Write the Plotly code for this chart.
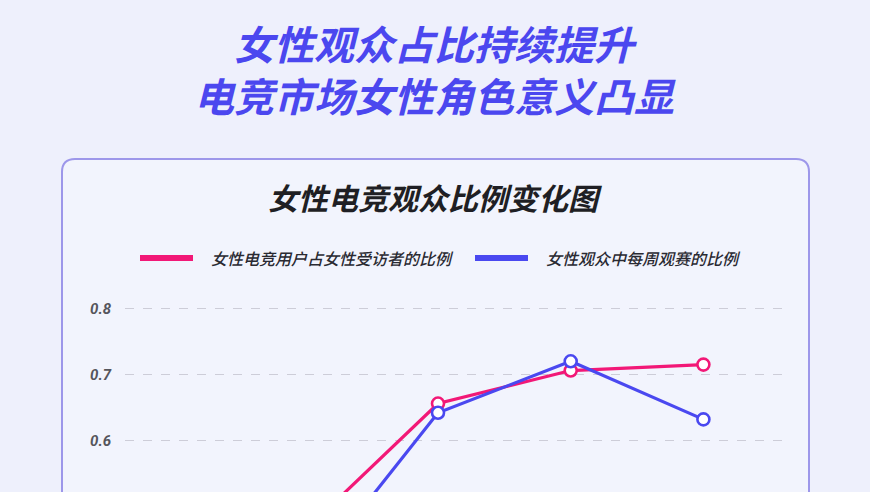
import plotly.graph_objects as go

# ---- data ----
years = ["2020", "2021", "2022", "2023"]
female_esports_users = [0.464, 0.656, 0.706, 0.715]   # 女性电竞用户占女性受访者的比例
weekly_viewers = [0.388, 0.642, 0.720, 0.632]          # 女性观众中每周观赛的比例
series_names = ["女性电竞用户占女性受访者的比例", "女性观众中每周观赛的比例"]
y_ticks = [0.6, 0.7, 0.8]
y_tick_text = ["0.6", "0.7", "0.8"]
title_lines = ["女性观众占比持续提升", "电竞市场女性角色意义凸显"]
chart_title = "女性电竞观众比例变化图"

PINK = "#f21877"
BLUE = "#4a48f0"
W, H = 870, 492
ML, MR, MT, MB = 125, 86, 290, 0
PW, PH = W - ML - MR, H - MT - MB

def px(x):
    return (x - ML) / PW

def py(y):
    return (H - MB - y) / PH

x_idx = list(range(len(years)))

fig = go.Figure()
for vals, color, name in [(female_esports_users, PINK, series_names[0]),
                          (weekly_viewers, BLUE, series_names[1])]:
    fig.add_trace(go.Scatter(
        x=x_idx, y=vals, mode="lines+markers", name=name,
        line=dict(color=color, width=3.2),
        marker=dict(size=12, color="white", line=dict(color=color, width=2.6)),
        showlegend=False, cliponaxis=False, hoverinfo="skip",
    ))

shapes = []
# card with rounded corners
x0, y0, x1, y1, r = 62, 159, 809, 640, 13
path = (f"M {px(x0)},{py(y0 + r)} Q {px(x0)},{py(y0)} {px(x0 + r)},{py(y0)} "
        f"L {px(x1 - r)},{py(y0)} Q {px(x1)},{py(y0)} {px(x1)},{py(y0 + r)} "
        f"L {px(x1)},{py(y1 - r)} Q {px(x1)},{py(y1)} {px(x1 - r)},{py(y1)} "
        f"L {px(x0 + r)},{py(y1)} Q {px(x0)},{py(y1)} {px(x0)},{py(y1 - r)} Z")
shapes.append(dict(type="path", path=path, xref="paper", yref="paper",
                   line=dict(color="#9d97ea", width=2), fillcolor="rgba(255,255,255,0.25)",
                   layer="below"))
# legend lines
for (lx0, lx1), color in [((140, 193), PINK), ((475, 528), BLUE)]:
    shapes.append(dict(type="line", xref="paper", yref="paper",
                       x0=px(lx0), x1=px(lx1), y0=py(258), y1=py(258),
                       line=dict(color=color, width=6)))

annotations = []
annotations.append(dict(text="<br>".join(title_lines), x=px(435), y=py(69), xref="paper", yref="paper",
                        showarrow=False, xanchor="center", yanchor="middle", align="center",
                        font=dict(family="Noto Sans CJK SC", size=40, color="#4b47ef",
                                  weight="bold", style="italic")))
annotations.append(dict(text=chart_title, x=px(435), y=py(197), xref="paper", yref="paper",
                        showarrow=False, xanchor="center", yanchor="middle",
                        font=dict(family="Noto Sans CJK SC", size=30, color="#1f1f24",
                                  weight="bold", style="italic")))
for lx, name in [(209, series_names[0]), (544, series_names[1])]:
    annotations.append(dict(text=name, x=px(lx), y=py(258), xref="paper", yref="paper",
                            showarrow=False, xanchor="left", yanchor="middle",
                            font=dict(family="Noto Sans CJK SC", size=16, color="#2a2a32",
                                      weight=500, style="italic")))

# y range so that 0.7 sits at pixel 374.5 with 660 px per unit
ppu = 660.0
y_top = 0.7 + (374.5 - MT) / ppu
y_bot = 0.7 - (H - MB - 374.5) / ppu
# x range so that category index 1 sits at 438 and spacing is 132.7 px
step = 132.7
x_left = 1 - (438 - ML) / step
x_right = 1 + (ML + PW - 438) / step

fig.update_layout(
    width=W, height=H,
    margin=dict(l=ML, r=MR, t=MT, b=MB),
    paper_bgcolor="#eef0fc", plot_bgcolor="rgba(0,0,0,0)",
    shapes=shapes, annotations=annotations,
    xaxis=dict(range=[x_left, x_right], showgrid=False, zeroline=False,
               showticklabels=False, showline=False, tickvals=x_idx, ticktext=years),
    yaxis=dict(range=[y_bot, y_top], tickvals=y_ticks, ticktext=y_tick_text,
               showgrid=True, gridcolor="#cdcdd8", griddash="dash", gridwidth=1,
               zeroline=False, showline=False, ticks="", ticklabelstandoff=13,
               tickfont=dict(family="Roboto", size=15, color="#55555c",
                             weight="bold", style="italic")),
)
fig.write_html("out.html", config={"displayModeBar": False},
               post_script="document.body.style.margin='0';document.body.style.overflow='hidden';")
